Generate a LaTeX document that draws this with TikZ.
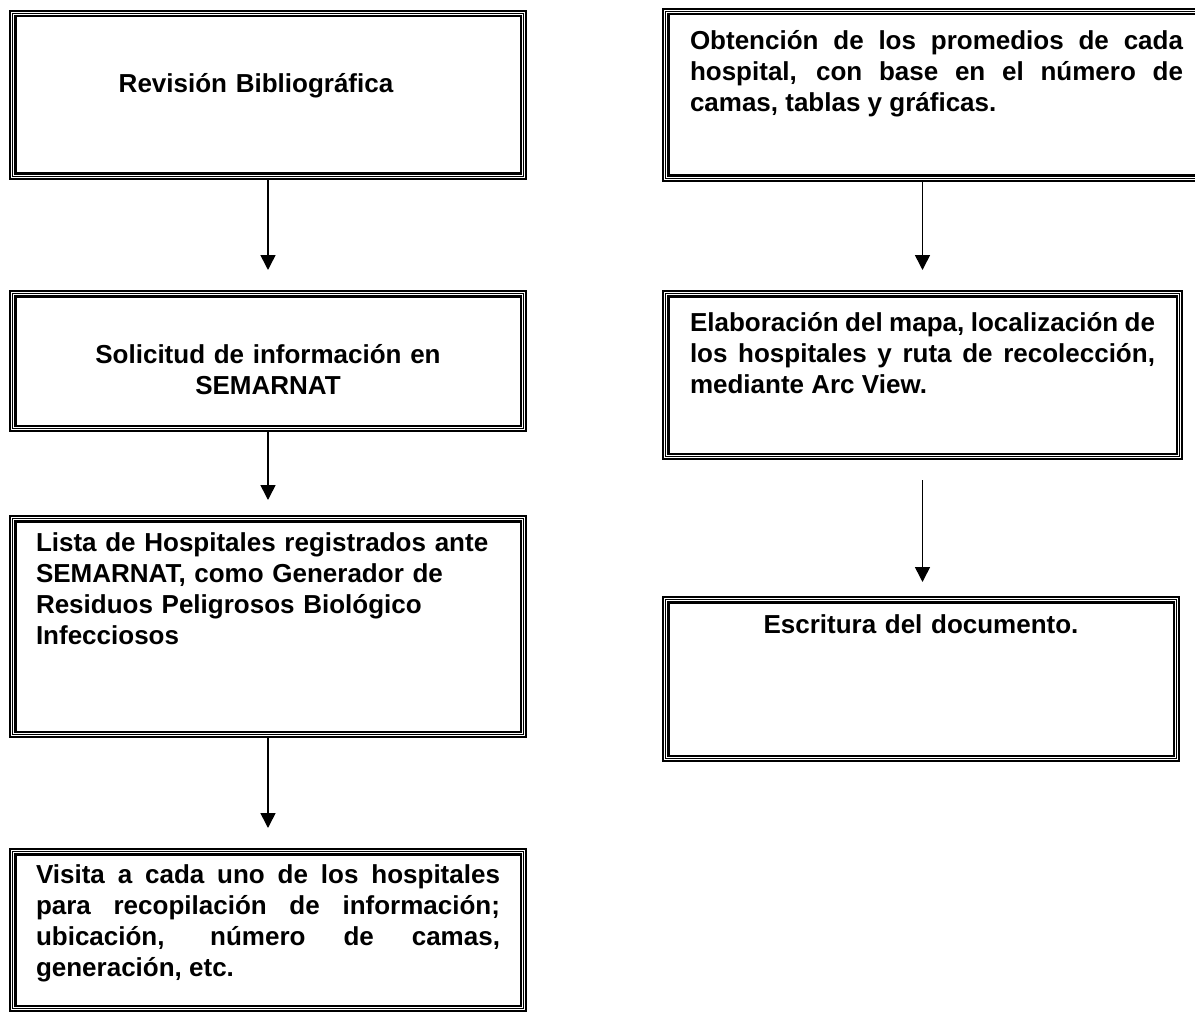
\documentclass[tikz,border=0pt]{standalone}
\usepackage{fontspec}
\setmainfont{Liberation Sans}
\usetikzlibrary{arrows.meta,positioning}

\begin{document}
\begin{tikzpicture}[x=1pt, y=1pt,
  tribox/.style={draw, line width=7.5pt, postaction={draw=white, line width=3.2pt},
    postaction={draw=black, line width=1.2pt}, inner ysep=10pt,
    font=\bfseries\fontsize{26}{31}\selectfont},
  lbox/.style={tribox, text width=464pt, inner xsep=23.25pt},
  rbox/.style={tribox, inner xsep=24.25pt},
  arr/.style={-{Triangle[length=15pt, width=15pt]}, line width=1.6pt}]
\useasboundingbox (0,0) rectangle (1195,-1014);
% left column
\node[lbox, align=center, anchor=north west, text height=69.25pt, text depth=73.25pt] (bib) at (9,-10) {\hspace*{-24pt}Revisión Bibliográfica};
\node[lbox, align=center, below=110pt of bib, text height=59.25pt, text depth=55.25pt] (sol) {Solicitud de información en\\ SEMARNAT};
\node[lbox, align=left, below=83pt of sol, text height=22.25pt, text depth=173.25pt] (lista) {Lista de Hospitales registrados ante\\ SEMARNAT, como Generador de\\ Residuos Peligrosos Biológico\\ Infecciosos};
\node[lbox, align=justify, below=110pt of lista, text height=21.25pt, text depth=115.25pt] (visita) {Visita a cada uno de los hospitales\linebreak para recopilación de información;\linebreak ubicación, número de camas,\linebreak generación, etc.};
% right column
\node[rbox, align=justify, text width=493pt, anchor=north west, text height=28.25pt, text depth=118.25pt] (prom) at (662,-8) {Obtención de los promedios de cada\linebreak hospital, con base en el número de\linebreak camas, tablas y gráficas.};
\node[rbox, align=justify, text width=465pt, below=108pt of prom.south west, anchor=north west, text height=27.25pt, text depth=115.25pt] (mapa) {Elaboración del mapa, localización de\linebreak los hospitales y ruta de recolección,\linebreak mediante Arc View.};
\node[rbox, align=center, text width=462pt, below=136pt of mapa.south west, anchor=north west, text height=23.25pt, text depth=115.25pt] (doc) {Escritura del documento.};
% arrows
\draw[arr, shorten >=20pt] (bib) -- (sol);
\draw[arr, shorten >=15pt] (sol) -- (lista);
\draw[arr, shorten >=20pt] (lista) -- (visita);
\draw[arr, shorten >=20pt] (mapa.north |- prom.south) -- (mapa);
\draw[arr, shorten <=20pt, shorten >=14pt] (mapa) -- (mapa |- doc.north);
\end{tikzpicture}
\end{document}
